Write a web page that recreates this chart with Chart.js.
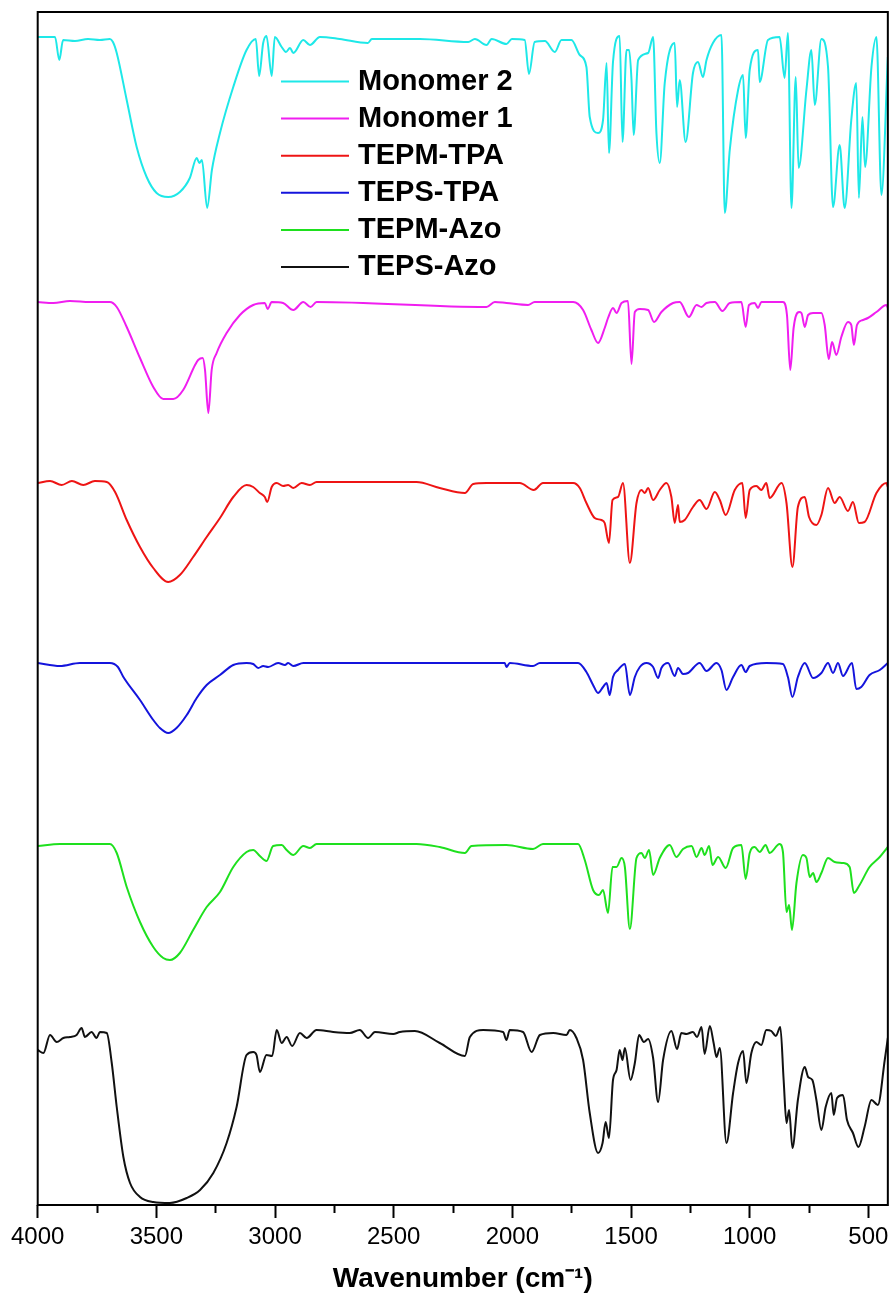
<!DOCTYPE html>
<html lang="en">
<head>
  <meta charset="UTF-8">
  <title>FTIR spectra</title>
  <script src="https://cdn.jsdelivr.net/npm/chart.js"></script>
  <style>
    body { margin: 0; background: #fff; }
    #wrap { width: 893px; height: 1304px; }
  </style>
</head>
<body>
<div id="wrap">
  <canvas id="ftir" width="893" height="1304"></canvas>
</div>
<script>
  // Wavenumber (cm-1) and stacked transmittance (a.u.)
  const monomer2Wn = [4000,3927,3909,3893,3843,3788,3738,3696,3683,3667,3625,3583,3541,3499,3450,3401,3359,3330,3319,3308,3286,3266,3232,3176,3120,3081,3067,3050,3036,3014,3001,2972,2954,2937,2923,2881,2853,2811,2727,2609,2592,2390,2186,2158,2109,2087,2025,2002,1948,1930,1906,1863,1821,1793,1751,1716,1688,1674,1639,1618,1603,1593,1576,1548,1536,1519,1508,1498,1489,1470,1428,1407,1393,1379,1358,1316,1306,1295,1270,1239,1218,1197,1182,1155,1119,1105,1084,1049,1028,1017,1000,965,958,923,874,853,839,824,806,794,761,740,726,698,670,649,621,600,572,551,540,525,514,487,466,445,418];
  const monomer2T = [116.8,116.8,114.5,116.5,116.4,116.6,116.5,116.6,116.3,115.2,110.5,105.8,102.8,101.2,100.8,101.3,102.7,104.7,104.2,104.5,99.7,103.5,107.2,111.8,115.5,116.6,112.9,116.2,116.9,112.9,116.8,115.8,115.3,115.7,115.2,116.5,116.0,116.8,116.6,116.2,116.6,116.6,116.3,116.6,116.0,116.6,116.1,116.6,116.5,113.1,116.3,116.4,115.3,116.5,116.5,115.0,113.8,108.8,107.2,108.5,114.2,105.2,114.3,116.9,106.3,115.5,115.5,112.5,107.0,114.5,115.2,116.8,107.2,104.2,112.2,116.2,109.8,112.5,106.3,113.2,114.3,112.8,114.5,116.2,117.0,99.2,105.5,111.5,113.0,106.7,113.5,115.5,112.3,116.5,116.8,112.7,117.2,99.7,112.8,103.7,111.5,115.5,110.0,116.6,113.8,99.8,106.0,99.7,108.5,112.2,100.7,108.8,103.8,113.8,116.8,101.0,114.8];

  const monomer1Wn = [4000,3934,3864,3780,3696,3667,3625,3569,3513,3471,3429,3387,3337,3324,3305,3295,3281,3267,3246,3204,3148,3092,3043,3031,3014,2966,2923,2881,2850,2825,2109,2074,2025,1934,1906,1744,1702,1667,1639,1611,1597,1576,1561,1540,1513,1498,1484,1463,1428,1403,1372,1323,1295,1256,1224,1203,1182,1147,1115,1084,1035,1017,1003,979,965,951,860,843,829,815,792,782,768,754,733,698,684,667,653,635,614,586,572,561,548,523,502,466,424,418];
  const monomer1T = [90.3,90.2,90.4,90.3,90.3,89.8,87.8,84.7,81.8,80.6,80.6,81.5,84.0,84.5,84.7,83.5,79.2,83.5,85.2,87.2,89.0,90.0,90.2,89.6,90.3,90.2,89.5,90.3,89.8,90.3,89.8,90.3,90.2,90.0,90.3,90.3,89.5,87.5,86.2,87.7,88.7,89.7,89.2,90.2,90.4,84.1,89.3,89.6,89.5,88.3,89.3,90.2,90.3,88.8,90.0,89.8,90.2,90.3,89.4,90.2,90.3,87.8,90.0,90.2,89.7,90.3,90.3,89.0,83.5,87.7,89.3,89.2,87.8,89.0,89.2,89.2,88.0,84.6,86.3,85.0,86.8,88.3,88.0,86.0,88.0,88.5,88.7,89.3,90.0,89.7];

  const tepmTpaWn = [4000,3948,3899,3856,3808,3759,3709,3674,3625,3569,3513,3450,3401,3345,3288,3232,3176,3120,3092,3064,3043,3033,3014,2993,2966,2945,2923,2888,2853,2825,2404,2306,2200,2165,2109,2025,1969,1910,1871,1744,1716,1688,1653,1625,1611,1593,1578,1555,1534,1505,1477,1456,1442,1428,1407,1379,1351,1330,1316,1302,1295,1274,1239,1211,1182,1147,1126,1101,1063,1031,1017,1000,972,951,930,916,866,845,820,797,768,750,719,698,670,642,621,586,565,540,516,466,424,418];
  const tepmTpaT = [72.2,72.4,72.0,72.4,72.0,72.4,72.3,71.3,68.5,65.8,63.7,62.3,63.0,64.8,66.8,68.7,70.8,72.0,71.8,71.2,70.8,70.3,71.8,72.2,71.9,72.0,71.7,72.2,72.0,72.3,72.3,71.7,71.2,72.1,72.2,72.2,72.2,71.5,72.2,72.2,71.7,70.2,68.7,68.5,68.2,66.2,70.5,70.8,72.2,64.2,70.2,71.5,71.2,71.7,70.5,71.5,72.2,70.8,68.2,70.0,68.3,68.5,69.8,70.5,69.6,71.3,70.5,69.0,71.5,72.2,68.7,71.5,71.9,71.5,72.2,70.7,72.2,70.2,63.8,69.8,70.8,68.8,68.0,69.0,71.7,70.2,70.8,69.4,70.3,68.2,68.3,71.2,72.2,71.8];

  const tepsTpaWn = [4000,3906,3822,3696,3662,3639,3569,3513,3485,3450,3415,3372,3330,3288,3232,3176,3120,3092,3071,3050,3029,2987,2958,2945,2923,2881,2032,2025,2011,1913,1884,1723,1688,1660,1639,1618,1603,1590,1576,1555,1526,1505,1484,1463,1435,1407,1386,1372,1344,1316,1302,1281,1260,1211,1182,1140,1119,1098,1070,1035,1017,1000,930,860,839,820,797,768,733,698,670,649,628,607,569,551,530,495,452,418];
  const tepsTpaT = [54.2,53.9,54.2,54.2,53.8,52.8,50.5,48.5,47.7,47.2,47.7,49.0,50.7,52.0,53.0,54.0,54.2,54.1,53.7,53.9,53.8,54.2,54.0,54.2,53.9,54.2,54.2,53.8,54.2,53.9,54.2,54.2,53.3,52.0,51.2,51.8,52.2,51.0,52.8,53.5,54.1,51.0,52.8,53.8,54.2,53.8,52.7,53.7,54.2,52.9,53.7,53.1,53.2,54.2,53.4,54.2,53.5,51.5,52.8,54.0,53.3,53.9,54.2,54.1,52.8,50.8,52.8,54.2,52.7,53.2,54.2,53.2,54.2,52.9,54.2,51.6,51.8,53.0,53.5,54.2];

  const tepmAzoWn = [4000,3906,3696,3667,3625,3569,3513,3471,3443,3401,3345,3288,3232,3176,3120,3092,3064,3036,3008,2972,2951,2923,2881,2853,2825,2404,2306,2200,2172,2025,1913,1871,1723,1695,1660,1635,1618,1597,1578,1561,1540,1526,1505,1477,1456,1442,1424,1407,1379,1337,1309,1281,1245,1224,1203,1190,1171,1157,1133,1101,1070,1035,1017,1000,979,958,933,916,874,860,845,834,822,803,776,761,747,733,719,698,670,642,607,579,561,537,495,452,418];
  const tepmAzoT = [35.9,36.1,36.1,35.2,31.8,28.3,25.8,24.7,24.5,25.2,27.5,29.8,31.3,33.8,35.3,35.5,34.9,34.4,35.9,36.0,35.5,35.0,35.9,35.7,36.1,36.1,35.8,35.2,35.9,36.0,35.6,36.1,36.1,34.5,31.5,31.0,31.5,29.2,33.8,33.8,34.7,33.8,27.6,34.7,35.2,34.7,35.5,33.0,34.7,36.0,34.8,35.6,35.9,34.8,35.7,35.0,35.9,34.0,34.8,33.7,35.7,36.0,32.6,35.2,35.8,35.3,36.0,35.2,36.1,35.3,29.3,30.0,27.5,32.2,35.0,34.7,32.8,33.2,32.3,33.2,34.7,34.3,34.2,33.8,31.2,32.0,33.8,34.8,35.8];

  const tepsAzoWn = [4000,3976,3948,3920,3892,3864,3836,3815,3801,3773,3752,3738,3709,3688,3667,3639,3611,3569,3513,3443,3372,3316,3260,3204,3162,3120,3092,3078,3064,3036,3012,2993,2972,2951,2928,2895,2867,2825,2755,2685,2643,2608,2579,2502,2474,2411,2306,2200,2179,2123,2039,2025,2011,1955,1919,1884,1828,1772,1758,1730,1702,1674,1639,1620,1607,1593,1576,1561,1548,1536,1526,1502,1484,1466,1446,1428,1407,1386,1365,1330,1306,1288,1267,1239,1222,1203,1190,1168,1152,1140,1126,1098,1070,1049,1028,1014,993,972,951,930,909,890,871,857,845,834,820,797,768,754,736,719,698,680,656,646,632,607,590,565,542,516,487,460,431,418];
  const tepsAzoT = [15.5,15.2,17.0,16.3,16.7,16.8,17.0,17.7,16.8,17.3,16.7,17.3,17.2,14.2,9.8,4.8,2.2,0.8,0.3,0.2,0.7,1.5,3.2,6.2,9.8,15.0,15.3,15.0,13.3,15.0,14.9,17.5,16.2,16.8,15.9,17.2,16.7,17.5,17.3,17.2,17.5,16.7,17.3,17.1,17.3,17.4,16.2,14.9,16.8,17.5,17.3,16.5,17.5,17.3,15.3,17.0,17.2,17.0,17.5,16.7,14.5,9.2,5.2,6.2,8.3,6.7,12.5,13.5,15.5,14.5,15.7,12.5,14.2,17.0,16.3,16.6,14.7,10.3,14.5,17.4,15.6,17.2,17.1,17.3,16.8,17.8,15.1,17.9,16.2,14.8,15.7,6.2,11.2,14.2,15.4,12.2,15.2,16.3,16.0,17.5,17.4,16.9,17.8,12.5,8.2,9.5,5.7,10.5,13.8,12.8,12.5,10.5,7.5,9.8,11.2,9.0,10.7,11.0,8.5,7.2,5.8,7.8,10.5,10.0,14.5,16.7];

  const seriesNames = ['Monomer 2', 'Monomer 1', 'TEPM-TPA', 'TEPS-TPA', 'TEPM-Azo', 'TEPS-Azo'];
  const seriesColors = ['#1EE8E8', '#F01EF0', '#EE1414', '#1414DC', '#1EE01E', '#111111'];
  const seriesWn = [monomer2Wn, monomer1Wn, tepmTpaWn, tepsTpaWn, tepmAzoWn, tepsAzoWn];
  const seriesT = [monomer2T, monomer1T, tepmTpaT, tepsTpaT, tepmAzoT, tepsAzoT];

  const fontFamily = '"Liberation Sans", Arial, sans-serif';
  Chart.defaults.font.family = fontFamily;
  Chart.defaults.color = '#000';

  // box around the plot area
  const framePlugin = {
    id: 'frame',
    afterDraw(chart) {
      const a = chart.chartArea;
      const ctx = chart.ctx;
      ctx.save();
      ctx.strokeStyle = '#000';
      ctx.lineWidth = 2;
      ctx.strokeRect(a.left, a.top, a.right - a.left, a.bottom - a.top);
      ctx.restore();
    }
  };

  // legend sits inside the plot, like the original
  const innerLegend = {
    id: 'innerLegend',
    afterDraw(chart, args, opts) {
      const ctx = chart.ctx;
      ctx.save();
      ctx.font = 'bold 29px ' + fontFamily;
      ctx.textBaseline = 'middle';
      ctx.textAlign = 'left';
      chart.data.datasets.forEach((ds, i) => {
        const y = opts.top + i * opts.rowGap;
        ctx.strokeStyle = ds.borderColor;
        ctx.lineWidth = 2;
        ctx.beginPath();
        ctx.moveTo(opts.left, y);
        ctx.lineTo(opts.left + opts.lineLen, y);
        ctx.stroke();
        ctx.fillStyle = '#000';
        ctx.fillText(ds.label, opts.left + opts.lineLen + opts.gap, y);
      });
      ctx.restore();
    }
  };

  const datasets = seriesNames.map((name, i) => ({
    label: name,
    data: seriesWn[i].map((wn, j) => ({ x: wn, y: seriesT[i][j] })),
    borderColor: seriesColors[i],
    backgroundColor: seriesColors[i],
    borderWidth: 2,
    pointRadius: 0,
    showLine: true,
    cubicInterpolationMode: 'monotone'
  }));

  new Chart(document.getElementById('ftir'), {
    type: 'scatter',
    data: { datasets: datasets },
    options: {
      responsive: false,
      animation: false,
      devicePixelRatio: 1,
      layout: { padding: { left: 37.7, right: 4.7, top: 12, bottom: 4 } },
      scales: {
        x: {
          type: 'linear',
          reverse: true,
          min: 418,
          max: 4000,
          border: { display: false },
          grid: {
            display: true,
            drawOnChartArea: false,
            drawTicks: true,
            tickLength: 13,
            tickWidth: 2,
            tickColor: '#000',
            // minor ticks drawn shorter
            tickBorderDash: (c) => (c.tick && c.tick.value % 500 !== 0) ? [8, 40] : []
          },
          ticks: {
            stepSize: 250,
            includeBounds: false,
            autoSkip: false,
            maxRotation: 0,
            padding: 4.5,
            color: '#000',
            font: { size: 24 },
            callback: (v) => v % 500 === 0 ? String(v) : ''
          },
          title: {
            display: true,
            text: 'Wavenumber (cm⁻¹)',
            color: '#000',
            font: { size: 28, weight: 'bold' },
            padding: { top: 6.4, bottom: 4.2 }
          }
        },
        y: {
          display: false,
          min: 0,
          max: 119.3
        }
      },
      plugins: {
        legend: { display: false },
        tooltip: { enabled: false },
        innerLegend: { left: 281, lineLen: 68, gap: 9, top: 81.5, rowGap: 37.1 }
      }
    },
    plugins: [framePlugin, innerLegend]
  });
</script>
</body>
</html>
